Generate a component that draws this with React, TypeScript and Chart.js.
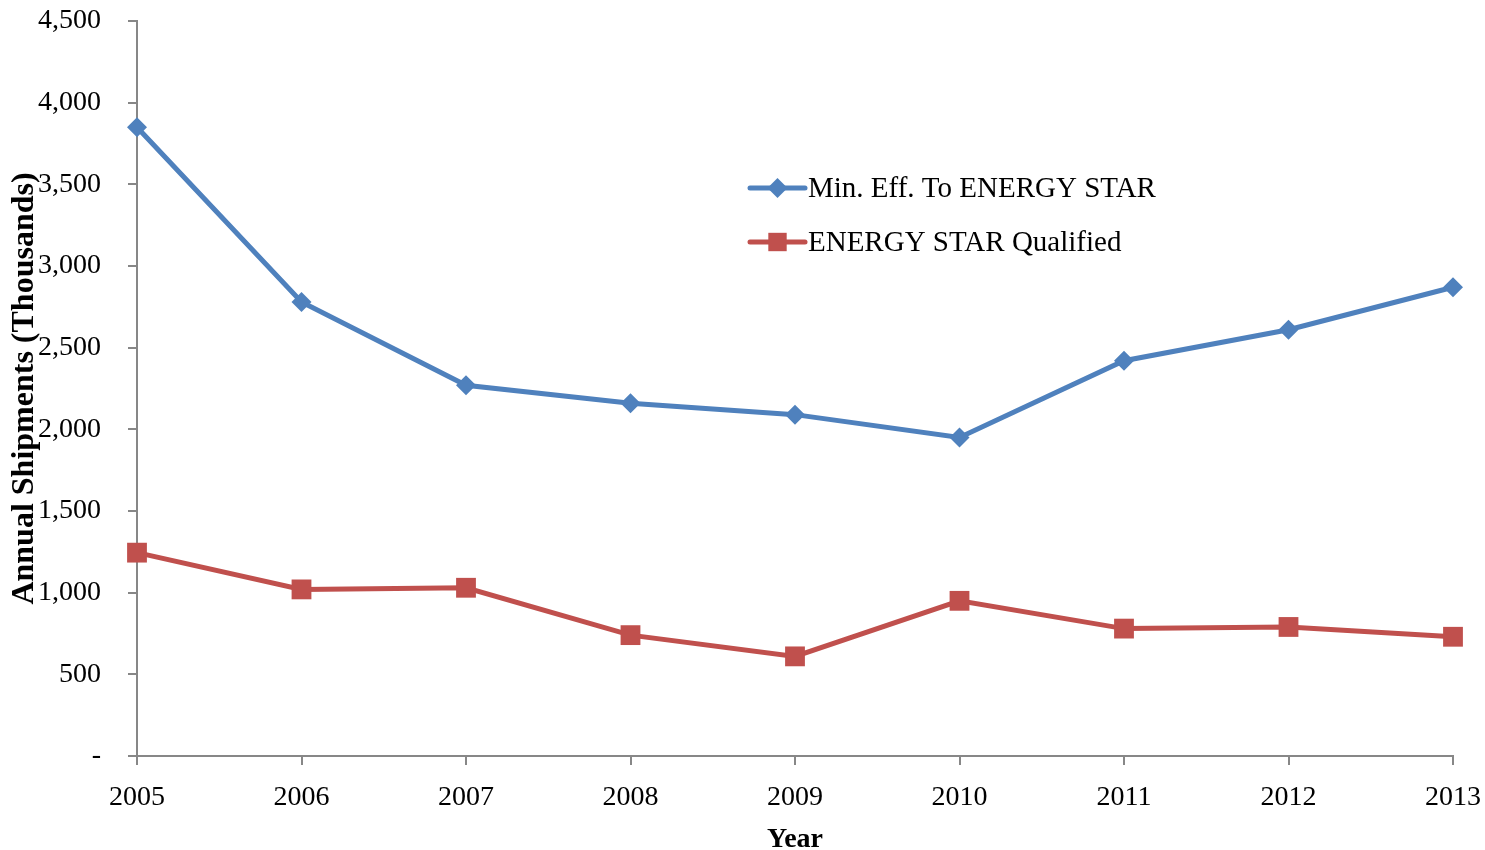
import React, { useEffect, useRef } from 'react';
import { Chart, registerables } from 'chart.js';

Chart.register(...registerables);

const years = ['2005', '2006', '2007', '2008', '2009', '2010', '2011', '2012', '2013'];
const minEffToEnergyStar = [3850, 2780, 2270, 2160, 2090, 1950, 2420, 2610, 2870];
const energyStarQualified = [1245, 1020, 1030, 740, 610, 950, 780, 790, 730];
const seriesLabels = ['Min. Eff. To ENERGY STAR', 'ENERGY STAR Qualified'];
const yMin = 0;
const yMax = 4500;
const yStep = 500;

const BLUE = '#4F81BD';
const RED = '#C0504D';
const AXIS = '#878787';
const FONT = '"Liberation Serif", "Times New Roman", serif';

function drawMarker(ctx: CanvasRenderingContext2D, style: string, x: number, y: number, r: number, color: string) {
  ctx.save();
  ctx.fillStyle = color;
  ctx.beginPath();
  if (style === 'rectRot') {
    ctx.moveTo(x, y - r);
    ctx.lineTo(x + r, y);
    ctx.lineTo(x, y + r);
    ctx.lineTo(x - r, y);
    ctx.closePath();
  } else {
    const h = r * Math.SQRT1_2;
    ctx.rect(x - h, y - h, 2 * h, 2 * h);
  }
  ctx.fill();
  ctx.restore();
}

const insideLegend = {
  id: 'insideLegend',
  afterDraw(chart: any) {
    const { ctx, chartArea } = chart;
    const x0 = chartArea.left + 613;
    const x1 = chartArea.left + 668;
    const rowY = [chartArea.top + 167, chartArea.top + 221];
    chart.data.datasets.forEach((ds: any, i: number) => {
      const y = rowY[i];
      ctx.save();
      ctx.strokeStyle = ds.borderColor;
      ctx.lineWidth = 5;
      ctx.lineCap = 'round';
      ctx.beginPath();
      ctx.moveTo(x0, y);
      ctx.lineTo(x1, y);
      ctx.stroke();
      ctx.restore();
      drawMarker(ctx, ds.pointStyle, (x0 + x1) / 2, y, ds.pointStyle === 'rectRot' ? 10 : 13, ds.borderColor);
      ctx.save();
      ctx.fillStyle = '#000';
      ctx.font = `29px ${FONT}`;
      ctx.textAlign = 'left';
      ctx.textBaseline = 'middle';
      ctx.fillText(ds.label, x1 + 3, y + 1);
      ctx.restore();
    });
  },
};

const zeroPadding = (scale: any) => {
  scale.paddingTop = 0;
  scale.paddingBottom = 0;
  scale.paddingLeft = 0;
  scale.paddingRight = 0;
};

export default function App() {
  const canvasRef = useRef<HTMLCanvasElement | null>(null);

  useEffect(() => {
    if (!canvasRef.current) return;
    const chart = new Chart(canvasRef.current, {
      type: 'line',
      data: {
        labels: years,
        datasets: [
          {
            label: seriesLabels[0],
            data: minEffToEnergyStar,
            borderColor: BLUE,
            backgroundColor: BLUE,
            borderWidth: 5,
            pointStyle: 'rectRot',
            pointRadius: 10,
            pointBorderWidth: 0,
            tension: 0,
          },
          {
            label: seriesLabels[1],
            data: energyStarQualified,
            borderColor: RED,
            backgroundColor: RED,
            borderWidth: 5,
            pointStyle: 'rect',
            pointRadius: 14,
            pointBorderWidth: 0,
            tension: 0,
          },
        ],
      },
      options: {
        animation: false,
        responsive: true,
        maintainAspectRatio: false,
        layout: { padding: { left: 0, right: 32, top: 21, bottom: 0 } },
        plugins: {
          legend: { display: false },
          tooltip: { enabled: false },
          title: { display: false },
        },
        scales: {
          x: {
            type: 'category',
            offset: false,
            grid: {
              drawOnChartArea: false,
              drawTicks: true,
              tickLength: 9,
              color: AXIS,
              lineWidth: 2,
            },
            border: { color: AXIS, width: 2 },
            ticks: {
              color: '#000',
              font: { family: FONT, size: 28 },
              padding: 16,
              maxRotation: 0,
              autoSkip: false,
            },
            title: {
              display: true,
              text: 'Year',
              color: '#000',
              font: { family: FONT, size: 28, weight: 'bold', lineHeight: 0.7 },
              padding: { top: 0, bottom: 0 },
            },
            afterFit: (scale: any) => {
              scale.height = 94;
              zeroPadding(scale);
            },
          },
          y: {
            min: yMin,
            max: yMax,
            grid: {
              drawOnChartArea: false,
              drawTicks: true,
              tickLength: 9,
              color: AXIS,
              lineWidth: 2,
            },
            border: { color: AXIS, width: 2 },
            ticks: {
              stepSize: yStep,
              color: '#000',
              font: { family: FONT, size: 28 },
              padding: 27,
              callback: (v: any) => (Number(v) === 0 ? '-' : Number(v).toLocaleString('en-US')),
            },
            title: {
              display: true,
              text: 'Annual Shipments (Thousands)',
              color: '#000',
              font: { family: FONT, size: 32, weight: 'bold', lineHeight: 1 },
              padding: { top: 9, bottom: 0 },
            },
            afterFit: (scale: any) => {
              scale.width = 137;
              zeroPadding(scale);
            },
          },
        },
      },
      plugins: [insideLegend],
    });
    return () => chart.destroy();
  }, []);

  return (
    <div style={{ position: 'fixed', left: 0, top: 0, width: '1485px', height: '850px', background: '#fff' }}>
      <canvas ref={canvasRef} />
    </div>
  );
}
